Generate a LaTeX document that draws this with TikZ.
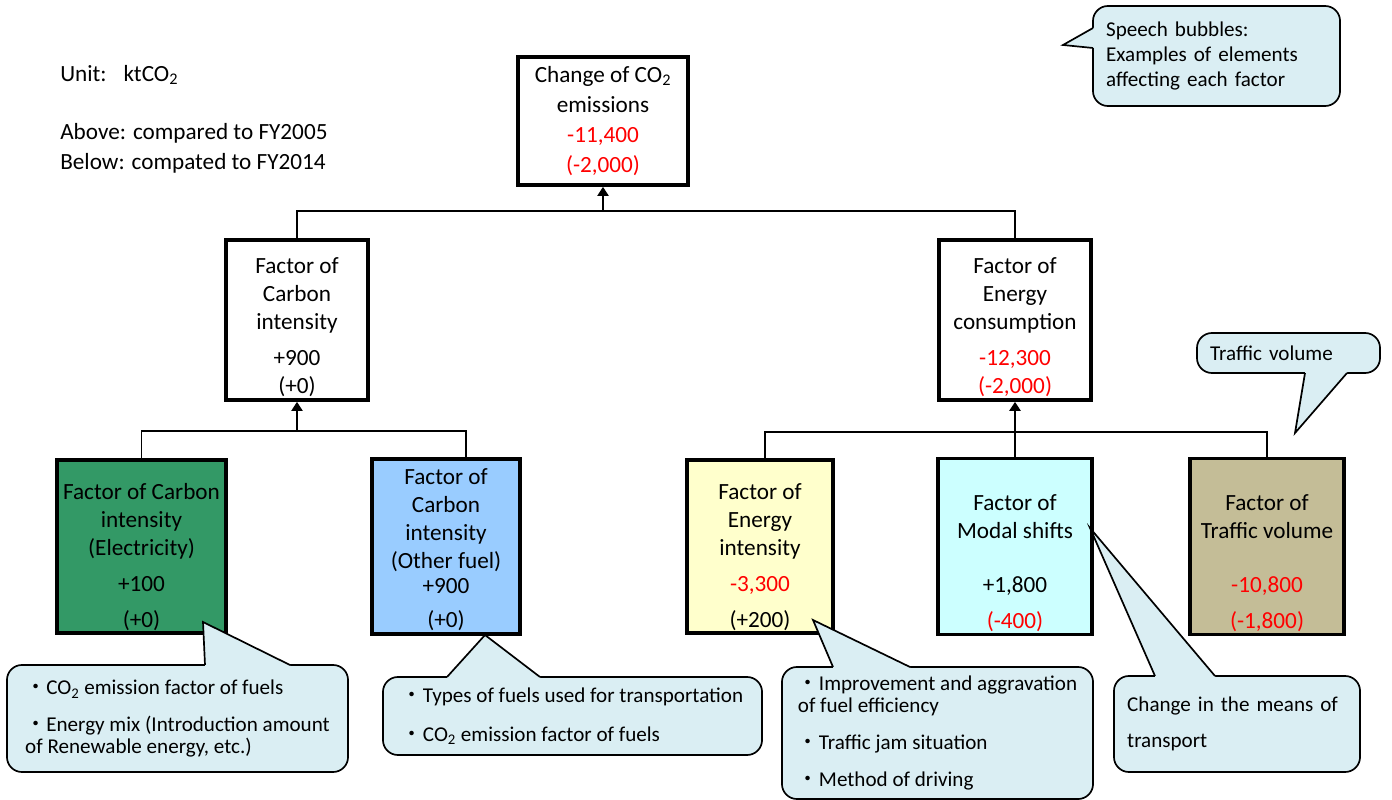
\documentclass[tikz,border=0pt]{standalone}
\usepackage{fontspec}
\setmainfont{Carlito}
\newfontfamily\cjk{Noto Sans CJK JP}
\usetikzlibrary{arrows.meta}
\definecolor{elecgreen}{HTML}{339966}
\definecolor{fuelblue}{HTML}{99CCFF}
\definecolor{intyellow}{HTML}{FFFFCC}
\definecolor{modalcyan}{HTML}{CCFFFF}
\definecolor{traffictan}{HTML}{C4BD97}
\definecolor{bubbleblue}{HTML}{DAEEF3}
\newcommand\bul{{\cjk ・}}
\newcommand\cotwo{CO\textsubscript{2}}
\newcommand\redv[1]{\textcolor{red}{#1}}
\newcommand\topgap[1]{\rule{0pt}{#1}}
\tikzset{factor/.style={rectangle,draw=black,line width=2.6pt,align=center,inner sep=2pt,font=\fontsize{16.5}{19.9}\selectfont}}
\tikzset{note/.style={anchor=west,inner sep=0pt,font=\fontsize{16.5}{19.9}\selectfont}}
\tikzset{bubble/.style={rectangle,rounded corners=0.375cm,draw=black,fill=bubbleblue,line width=1.2pt,align=left,inner xsep=0.33cm,font=\fontsize{15}{18}\selectfont}}
\tikzset{bubbleTip/.style={fill=bubbleblue}}
\tikzset{bubbleEdge/.style={draw=black,line width=1.2pt,line join=miter}}
\tikzset{treeLine/.style={line width=0.9pt}}
\tikzset{upArrow/.style={-{Triangle[length=6.5pt,width=8pt]},line width=1.3pt}}

\begin{document}
\begin{tikzpicture}[x=0.025cm,y=-0.025cm]
\useasboundingbox (0,0) rectangle (1392,800);
% legend text
\node (unit) [note] at (60,75) {Unit:\hspace{12pt}ktCO\textsubscript{2}};
\node (above) [note] at (60,133) {Above: compared to FY2005};
\node (below) [note] at (60,163) {Below: compated to FY2014};
% factor boxes
\node (emis) [factor,minimum width=4.25cm,minimum height=3.2cm] at (603,121) {Change of \cotwo\\[1.5pt]emissions\\[1.5pt]\redv{-11,400}\\[1.5pt]\redv{(-2,000)}};
\node (ci) [factor,minimum width=3.55cm,minimum height=4cm] at (297,320) {\topgap{22pt}Factor of\\Carbon\\intensity\\[0.2cm]+900\\(+0)};
\node (ec) [factor,minimum width=3.8cm,minimum height=4cm] at (1015,320) {\topgap{22pt}Factor of\\Energy\\consumption\\[0.2cm]\redv{-12,300}\\\redv{(-2,000)}};
\node (elec) [factor,fill=elecgreen,minimum width=4.225cm,minimum height=4.325cm] at (141.5,546.5) {\topgap{26pt}Factor of Carbon\\intensity\\(Electricity)\\[0.2cm]+100\\[0.2cm](+0)};
\node (oth) [factor,fill=fuelblue,minimum width=3.7cm,minimum height=4.325cm] at (446,546.5) {\topgap{16pt}Factor of\\Carbon\\intensity\\(Other fuel)\\[-2pt]+900\\[0.15cm](+0)};
\node (ei) [factor,fill=intyellow,minimum width=3.65cm,minimum height=4.325cm] at (760,546.5) {\topgap{26pt}Factor of\\Energy\\intensity\\[0.2cm]\redv{-3,300}\\[0.2cm](+200)};
\node (ms) [factor,fill=modalcyan,minimum width=3.85cm,minimum height=4.325cm] at (1015,546.5) {\topgap{35pt}Factor of\\Modal shifts\\[0.65cm]+1,800\\[0.2cm]\redv{(-400)}};
\node (tv) [factor,fill=traffictan,minimum width=3.85cm,minimum height=4.325cm] at (1267,546.5) {\topgap{35pt}Factor of\\Traffic volume\\[0.65cm]\redv{-10,800}\\[0.2cm]\redv{(-1,800)}};
% tree
\coordinate (topJoin) at (603,211);
\coordinate (ciJoin) at (297,431);
\coordinate (ecJoin) at (1015,432);
\draw[treeLine] (ci.north) |- (topJoin) -| (ec.north);
\draw[upArrow] (topJoin) -- (emis.south);
\draw[treeLine] (elec.north) |- (ciJoin) -| ([xshift=0.5cm]oth.north);
\draw[upArrow] (ciJoin) -- (ci.south);
\draw[treeLine] ([xshift=0.125cm]ei.north) |- (ecJoin) -| (tv.north);
\draw[treeLine] (ms.north) -- (ecJoin);
\draw[upArrow,line width=1.9pt] (ecJoin) -- (ec.south);
% speech bubbles
\node (bubLegend) [bubble,text width=5.515cm,minimum height=2.5cm] at (1216.5,56) {Speech bubbles:\\Examples of elements\\affecting each factor};
\fill[bubbleTip] (1093,28) -- (1063,45) -- (1093,48) -- (1096,48) -- (1096,28) -- cycle;
\draw[bubbleEdge] (1093,28) -- (1063,45) -- (1093,48);
\node (bubTraffic) [bubble,text width=3.915cm,minimum height=1cm] at (1288.5,353) {Traffic volume};
\fill[bubbleTip] (1305,373) -- (1295,433) -- (1347,373) -- (1347,370) -- (1305,370) -- cycle;
\draw[bubbleEdge] (1305,373) -- (1295,433) -- (1347,373);
\node (bubElec) [bubble,minimum width=8.525cm,minimum height=2.675cm] at (177.5,718.5) {\bul\cotwo{} emission factor of fuels\\[8.3pt]\bul Energy mix (Introduction amount\\[-3pt]of Renewable energy, etc.)};
\fill[bubbleTip] (205,665) -- (203,622) -- (290,665) -- (290,668) -- (205,668) -- cycle;
\draw[bubbleEdge] (205,665) -- (203,622) -- (290,665);
\node (bubOther) [bubble,minimum width=9.475cm,minimum height=1.95cm] at (572.5,716) {\bul Types of fuels used for transportation\\[9.7pt]\bul\cotwo{} emission factor of fuels};
\fill[bubbleTip] (447,677) -- (485,635) -- (540,677) -- (540,680) -- (447,680) -- cycle;
\draw[bubbleEdge] (447,677) -- (485,635) -- (540,677);
\node (bubEnergy) [bubble,minimum width=7.775cm,minimum height=3.3cm] at (937.5,733) {\bul Improvement and aggravation\\[-3pt]of fuel efficiency\\[8.3pt]\bul Traffic jam situation\\[8.3pt]\bul Method of driving};
\fill[bubbleTip] (833,667) -- (813,620) -- (910,667) -- (910,670) -- (833,670) -- cycle;
\draw[bubbleEdge] (833,667) -- (813,620) -- (910,667);
\node (bubModal) [bubble,text width=5.49cm,minimum height=2.4cm] at (1237,724) {Change in the means of\\[7.6pt]transport};
\fill[bubbleTip] (1155,676) -- (1090,528) -- (1215,676) -- (1215,679) -- (1155,679) -- cycle;
\draw[bubbleEdge] (1155,676) -- (1090,528) -- (1215,676);
\end{tikzpicture}
\end{document}
